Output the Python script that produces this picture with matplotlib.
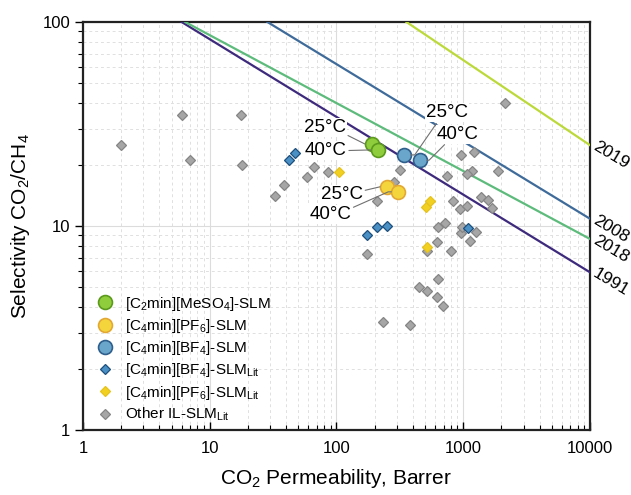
import numpy as np
import matplotlib
matplotlib.use('Agg')
import matplotlib.pyplot as plt
from matplotlib.ticker import LogLocator, NullFormatter

plt.rcParams['font.family'] = ['Liberation Sans', 'DejaVu Sans']
plt.rcParams['mathtext.fontset'] = 'custom'
plt.rcParams['mathtext.rm'] = 'Liberation Sans'
plt.rcParams['mathtext.it'] = 'Liberation Sans:italic'
plt.rcParams['mathtext.bf'] = 'Liberation Sans:bold'

# upper bounds: end points (CO2 permeability, selectivity)
bound_years = ['1991', '2008', '2018', '2019']
bound_p = [[6.0, 10000], [28.5, 10000], [6.4, 10000], [356, 10000]]
bound_sel = [[100, 5.93], [100, 10.85], [100, 8.64], [100, 24.9]]
bound_colors = ['#3d2a7c', '#3f6b9a', '#5dbb7c', '#bcd93a']

# own measurements (25 C, 40 C)
meso4_p = [190, 211]
meso4_sel = [25.1, 23.6]
pf6_p = [250, 307]
pf6_sel = [15.6, 14.7]
bf4_p = [339, 456]
bf4_sel = [22.3, 21.0]

# literature
bf4_lit_p = [42, 47, 175, 209, 252, 1100]
bf4_lit_sel = [21.1, 22.9, 9.0, 9.9, 10.0, 9.8]
pf6_lit_p = [104, 506, 547, 515]
pf6_lit_sel = [18.4, 12.4, 13.3, 7.9]
other_p = [2.0, 6.0, 7.0, 17.5, 18, 33, 38.5, 59, 66, 86,
           317, 282, 209, 173, 740, 2130, 960, 1220, 1880, 1165,
           1065, 830, 943, 1065, 1370, 1575, 1700, 632, 718, 960,
           1254, 617, 798, 1130, 515, 632, 450, 515, 617, 690,
           231, 377, 977]
other_sel = [25, 35, 21, 35, 20, 14, 15.8, 17.3, 19.5, 18.3,
             18.8, 16.5, 13.2, 7.3, 17.5, 40, 22.2, 23, 18.7, 18.5,
             17.9, 13.2, 12.1, 12.6, 13.9, 13.4, 12.2, 9.9, 10.4, 9.2,
             9.35, 8.35, 7.5, 8.45, 7.5, 5.5, 5.0, 4.8, 4.47, 4.06,
             3.37, 3.27, 9.9]

fig = plt.figure(figsize=(6.31, 4.95), dpi=100)
ax = fig.add_axes([0.1315, 0.1313, 0.8035, 0.8243])

for year, p, s, c in zip(bound_years, bound_p, bound_sel, bound_colors):
    ax.plot(p, s, color=c, lw=1.6, zorder=3)
    ax.annotate(year, xy=(p[1], s[1]), xytext=(4, 0), textcoords='offset pixels',
                rotation=-31, rotation_mode='anchor', ha='left', va='center',
                fontsize=12.5, annotation_clip=False)

ax.plot(other_p, other_sel, ls='none', marker='D', ms=5.5, mfc='#a6a6a6', mec='#858585',
        mew=0.9, zorder=4, label='Other IL-SLM$_{\\mathrm{Lit}}$')
ax.plot(bf4_lit_p, bf4_lit_sel, ls='none', marker='D', ms=5.5, mfc='#4a90c4', mec='#1d4f7e',
        mew=0.9, zorder=5, label='[C$_4$min][BF$_4$]-SLM$_{\\mathrm{Lit}}$')
ax.plot(pf6_lit_p, pf6_lit_sel, ls='none', marker='D', ms=5.5, mfc='#f2d022', mec='#e6c21c',
        mew=0.9, zorder=5, label='[C$_4$min][PF$_6$]-SLM$_{\\mathrm{Lit}}$')
ax.plot(meso4_p, meso4_sel, ls='none', marker='o', ms=10, mfc='#8fcd3c', mec='#5b9a1c',
        mew=1.2, zorder=6, label='[C$_2$min][MeSO$_4$]-SLM')
ax.plot(pf6_p, pf6_sel, ls='none', marker='o', ms=10, mfc='#f4d63c', mec='#e3a834',
        mew=1.2, zorder=6, label='[C$_4$min][PF$_6$]-SLM')
ax.plot(bf4_p, bf4_sel, ls='none', marker='o', ms=10, mfc='#6aa6cc', mec='#2f5f8c',
        mew=1.2, zorder=6, label='[C$_4$min][BF$_4$]-SLM')

# temperature labels with leader lines
box = dict(boxstyle='square,pad=0.05', fc='white', ec='none')
lead = dict(arrowstyle='-', color='#707070', lw=0.8, shrinkA=1, shrinkB=5)

def temp_label(txt, p, s, dx, dy, ha, conn):
    ax.annotate(txt, xy=(p, s), xytext=(dx, dy), textcoords='offset pixels',
                ha=ha, va='center', fontsize=13.5, bbox=box, zorder=7,
                arrowprops=dict(lead, connectionstyle=conn))

temp_label('25°C', meso4_p[0], meso4_sel[0], -26, 17, 'right',
           'arc,angleA=0,angleB=180,armA=7,armB=6,rad=0')
temp_label('40°C', meso4_p[1], meso4_sel[1], -31, -1, 'right',
           'arc,angleA=0,angleB=180,armA=7,armB=6,rad=0')
temp_label('25°C', pf6_p[0], pf6_sel[0], -24, -8, 'right',
           'arc,angleA=0,angleB=180,armA=5,armB=6,rad=0')
temp_label('40°C', pf6_p[1], pf6_sel[1], -47, -23, 'right',
           'arc,angleA=0,angleB=180,armA=6,armB=10,rad=0')
temp_label('25°C', bf4_p[0], bf4_sel[0], 22, 42, 'left',
           'arc,angleA=180,angleB=0,armA=3,armB=11,rad=0')
temp_label('40°C', bf4_p[1], bf4_sel[1], 17, 26, 'left',
           'arc,angleA=180,angleB=0,armA=3,armB=9,rad=0')

ax.set_xscale('log')
ax.set_yscale('log')
ax.set_xlim(1, 10000)
ax.set_ylim(1, 100)
ax.set_xticks([1, 10, 100, 1000, 10000], ['1', '10', '100', '1000', '10000'])
ax.set_yticks([1, 10, 100], ['1', '10', '100'])
ax.xaxis.set_minor_locator(LogLocator(base=10, subs=np.arange(2, 10)))
ax.yaxis.set_minor_locator(LogLocator(base=10, subs=np.arange(2, 10)))
ax.xaxis.set_minor_formatter(NullFormatter())
ax.yaxis.set_minor_formatter(NullFormatter())

ax.grid(True, which='major', color='#dcdcdc', lw=0.8, ls='-', zorder=0)
ax.grid(True, which='minor', color='#e0e0e0', lw=0.7, ls=(0, (3, 3)), zorder=0)
ax.set_axisbelow(True)

ax.tick_params(axis='x', which='both', direction='in', labelsize=12, pad=8)
ax.tick_params(axis='x', which='major', length=6, width=1)
ax.tick_params(axis='x', which='minor', length=3.5, width=0.8)
ax.tick_params(axis='y', which='both', direction='out', labelsize=12, pad=3)
ax.tick_params(axis='y', which='major', length=6, width=1)
ax.tick_params(axis='y', which='minor', length=3.5, width=0.8)
for sp in ax.spines.values():
    sp.set_color('#222222')
    sp.set_linewidth(1.6)

ax.set_xlabel('CO$_2$ Permeability, Barrer', fontsize=15, labelpad=8)
ax.set_ylabel('Selectivity CO$_2$/CH$_4$', fontsize=15, labelpad=8)

h, l = ax.get_legend_handles_labels()
order = [3, 4, 5, 1, 2, 0]
ax.legend([h[i] for i in order], [l[i] for i in order], loc='lower left',
          bbox_to_anchor=(0.005, -0.01), frameon=False, fontsize=11,
          handletextpad=0.7, labelspacing=0.28, handlelength=1.2,
          borderaxespad=0.3)

fig.savefig('out.png', dpi=100)
